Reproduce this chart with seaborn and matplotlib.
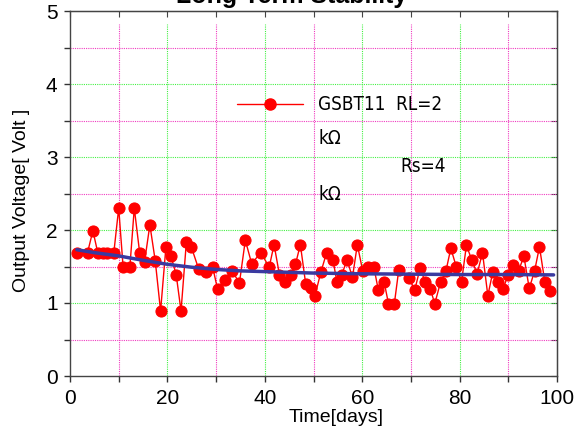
import matplotlib
matplotlib.use('Agg')
import matplotlib.pyplot as plt
import seaborn as sns
from matplotlib.font_manager import FontProperties
from matplotlib.lines import Line2D

days = [1.4, 3.6, 4.7, 5.7, 6.7, 7.7, 9.0, 10.0, 10.9, 12.3,
        13.2, 14.3, 15.3, 16.4, 17.5, 18.6, 19.7, 20.7, 21.8, 22.8,
        23.9, 24.9, 26.4, 27.9, 29.3, 30.3, 31.9, 33.2, 34.8, 36.0,
        37.3, 39.2, 40.9, 41.9, 43.0, 44.1, 45.3, 46.3, 47.3, 48.4,
        49.4, 50.3, 51.5, 52.7, 54.0, 54.8, 55.8, 56.9, 58.0, 59.0,
        60.1, 61.2, 62.4, 63.3, 64.5, 65.4, 66.6, 67.5, 69.6, 70.8,
        71.9, 72.9, 74.0, 74.9, 76.1, 77.2, 78.2, 79.3, 80.4, 81.4,
        82.5, 83.6, 84.7, 85.8, 86.8, 87.8, 88.9, 90.0, 91.0, 92.1,
        93.2, 94.3, 95.4, 96.4, 97.5, 98.5]
volts = [1.69, 1.69, 1.99, 1.69, 1.69, 1.69, 1.69, 2.30, 1.50, 1.50,
         2.30, 1.69, 1.56, 2.07, 1.58, 0.89, 1.77, 1.65, 1.39, 0.89,
         1.84, 1.77, 1.47, 1.42, 1.49, 1.19, 1.32, 1.44, 1.28, 1.86,
         1.54, 1.69, 1.49, 1.80, 1.39, 1.29, 1.39, 1.53, 1.80, 1.26,
         1.20, 1.10, 1.42, 1.69, 1.59, 1.29, 1.39, 1.59, 1.35, 1.80,
         1.44, 1.49, 1.49, 1.18, 1.29, 0.99, 0.99, 1.45, 1.34, 1.18,
         1.48, 1.29, 1.19, 0.99, 1.29, 1.44, 1.75, 1.50, 1.29, 1.79,
         1.59, 1.40, 1.69, 1.10, 1.42, 1.29, 1.19, 1.39, 1.52, 1.44,
         1.64, 1.20, 1.44, 1.77, 1.29, 1.17]

# fitted trend curve (blue)
trend_days = [1.4, 5, 10, 15, 20, 25, 30, 35, 40, 50, 60, 70, 80, 90, 99.3]
trend_volts = [1.73, 1.69, 1.645, 1.585, 1.53, 1.49, 1.46, 1.44, 1.43, 1.41,
               1.40, 1.395, 1.39, 1.39, 1.385]

sns.set_style('ticks')
plt.rcParams['font.family'] = ['Liberation Sans', 'DejaVu Sans']
for k in ['text.color', 'axes.labelcolor', 'xtick.labelcolor', 'ytick.labelcolor']:
    plt.rcParams[k] = 'black'

# narrow font for the legend text
narrow = FontProperties(family=['DejaVu Sans'], stretch='condensed', size=13.5)
em = 13.5 * 100 / 72

fig = plt.figure(figsize=(5.84, 4.30), dpi=100)
ax = fig.add_axes([70 / 584, 1 - 376 / 430, 487 / 584, 365 / 430])

magenta = '#f03cc0'
green = '#44f044'
for x in range(10, 100, 10):
    ax.axvline(x, ymax=0.965, color=green if x % 20 == 0 else magenta,
               lw=0.8, ls=(0, (1, 1)), zorder=1)
for i in range(1, 10):
    ax.axhline(i / 2, color=green if i % 2 == 0 else magenta,
               lw=0.8, ls=(0, (1, 1)), zorder=1)

sns.lineplot(x=days, y=volts, color='red', lw=1, marker='o', markersize=8,
             markeredgecolor='red', ax=ax, zorder=3)
sns.lineplot(x=trend_days, y=trend_volts, color='#3a3aa0', lw=2.5, ax=ax, zorder=4)

ax.set_xlim(0, 100)
ax.set_ylim(0, 5)
ax.set_xticks(range(0, 101, 20))
ax.set_xticks(range(10, 100, 20), minor=True)
ax.set_yticks(range(0, 6))
ax.set_yticks([0.5, 1.5, 2.5, 3.5, 4.5], minor=True)
ax.tick_params(which='both', direction='out', length=4, width=1, labelsize=15,
               color='#333333', pad=5)
ax.set_xlabel('')
ax.set_ylabel('')
for s in ax.spines.values():
    s.set_visible(True)
    s.set_color('#444444')
    s.set_linewidth(1)

top = ax.secondary_xaxis('top')
top.set_xticks(range(0, 101, 10))
top.tick_params(direction='in', length=4, labeltop=False, color='#444444')
right = ax.secondary_yaxis('right')
right.set_yticks([i / 2 for i in range(11)])
right.tick_params(direction='in', length=4, labelright=False, color='#444444')

handle = Line2D([], [], color='red', lw=1, marker='o', markersize=8)
ax.legend(handles=[handle], labels=['GSBT11  RL=2'], loc='center left',
          bbox_to_anchor=(237 / 584, 1 - 105 / 430), bbox_transform=fig.transFigure,
          frameon=False, borderpad=0, borderaxespad=0, handlelength=66 / em,
          handletextpad=15 / em, prop=narrow)
fig.text(318 / 584, 1 - 139 / 430, 'kΩ', fontproperties=narrow, va='center')
fig.text(400 / 584, 1 - 167 / 430, 'Rs=4', fontproperties=narrow, va='center')
fig.text(318 / 584, 1 - 195 / 430, 'kΩ', fontproperties=narrow, va='center')

fig.text(292 / 584, 1 - 3 / 430, 'Long Term Stability', ha='center', va='baseline',
         fontsize=18, fontweight='bold')
fig.text(22 / 584, 1 - 200 / 430, 'Output Voltage[ Volt ]', rotation=90,
         ha='center', va='center', fontsize=14)
fig.text(336 / 584, 1 - 417 / 430, 'Time[days]', ha='center', va='center', fontsize=14)

fig.savefig('out.png', dpi=100)
